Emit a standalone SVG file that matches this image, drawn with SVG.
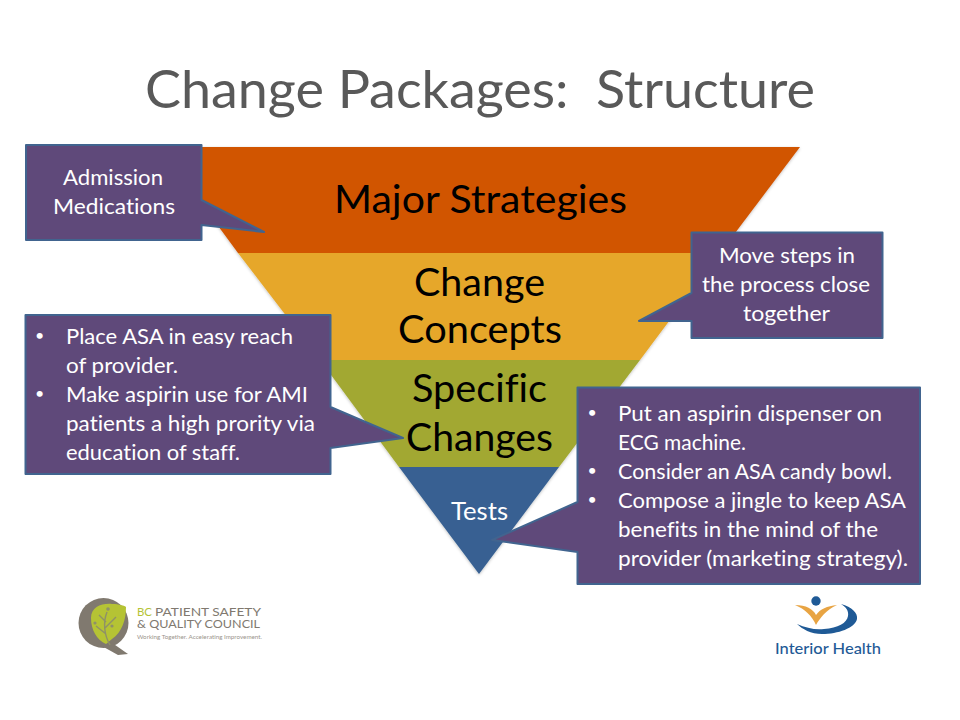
<svg xmlns="http://www.w3.org/2000/svg" width="960" height="720" viewBox="0 0 960 720">
<style>
text{font-family:Lato,"Liberation Sans",sans-serif;font-variant-ligatures:none}
.title{font-size:52px;fill:#595959;text-anchor:middle;white-space:pre}
.band{font-size:39px;fill:#000;text-anchor:middle}
.call{fill:#5f497a;stroke:#41648f;stroke-width:2;stroke-linejoin:round}
.t{font-size:20.5px;fill:#fff}
.b{font-size:16px;fill:#fff}
.c{text-anchor:middle}
.logo{fill:#80796f}
.lt{font-size:10.5px;fill:#80796f}
</style>
<defs>
<filter id="soft" x="-5%" y="-5%" width="110%" height="110%"><feDropShadow dx="0" dy="1" stdDeviation="1.5" flood-color="#000" flood-opacity=".25"/></filter>
</defs>
<rect width="960" height="720" fill="#fff"/>
<text class="title" x="480" y="108" textLength="670" lengthAdjust="spacingAndGlyphs">Change Packages:  Structure</text>

<g id="pyramid" filter="url(#soft)">
<g id="band-major"><polygon points="160,147 800,147 720,253 238,253" fill="#d15400"/></g>
<g id="band-concepts"><polygon points="238,253 720,253 640,360 320,360" fill="#e6a729"/></g>
<g id="band-specific"><polygon points="320,360 640,360 559,467 399,467" fill="#a2a832"/></g>
<g id="band-tests"><polygon points="399,467 559,467 479,574" fill="#376092"/></g>
</g>
<text class="band" x="480.5" y="213" textLength="293" lengthAdjust="spacingAndGlyphs">Major Strategies</text>
<text class="band" x="479.5" y="296" textLength="131" lengthAdjust="spacingAndGlyphs">Change</text>
<text class="band" x="480" y="343" textLength="164" lengthAdjust="spacingAndGlyphs">Concepts</text>
<text class="band" x="479.5" y="402" textLength="135" lengthAdjust="spacingAndGlyphs">Specific</text>
<text class="band" x="479.5" y="451" textLength="147" lengthAdjust="spacingAndGlyphs">Changes</text>
<text class="c" x="479.5" y="520" font-size="25" fill="#fff" textLength="57" lengthAdjust="spacingAndGlyphs">Tests</text>

<g id="connectors"></g>

<g id="callout-admission">
<path class="call" d="M26,145H201.5V200L264,232L201.5,225V240H26Z"/>
<text class="t" x="63" y="185" textLength="100" lengthAdjust="spacingAndGlyphs">Admission</text>
<text class="t" x="53" y="214" textLength="122" lengthAdjust="spacingAndGlyphs">Medications</text>
</g>
<g id="callout-move-steps">
<path class="call" d="M691.5,232.5H882.5V338H691.5V321H639L691.5,293Z"/>
<text class="t" x="719" y="263" textLength="136" lengthAdjust="spacingAndGlyphs">Move steps in</text>
<text class="t" x="702" y="292" textLength="168" lengthAdjust="spacingAndGlyphs">the process close</text>
<text class="t" x="743" y="321" textLength="87" lengthAdjust="spacingAndGlyphs">together</text>
</g>
<g id="callout-aspirin-reach">
<path class="call" d="M25.5,315H330.5V407L403,438L330.5,448V474H25.5Z"/>
<text class="b" x="35" y="341">•</text>
<text class="t" x="66" y="344" textLength="227" lengthAdjust="spacingAndGlyphs">Place ASA in easy reach</text>
<text class="t" x="66" y="373" textLength="112" lengthAdjust="spacingAndGlyphs">of provider.</text>
<text class="b" x="35" y="399">•</text>
<text class="t" x="66" y="402" textLength="242" lengthAdjust="spacingAndGlyphs">Make aspirin use for AMI</text>
<text class="t" x="66" y="431" textLength="249" lengthAdjust="spacingAndGlyphs">patients a high prority via</text>
<text class="t" x="66" y="460" textLength="174" lengthAdjust="spacingAndGlyphs">education of staff.</text>
</g>
<g id="callout-dispenser">
<path class="call" d="M577.5,387.5H920V584H577.5V552L492,540L577.5,502Z"/>
<text class="b" x="587.5" y="418">•</text>
<text class="t" x="618" y="421" textLength="264" lengthAdjust="spacingAndGlyphs">Put an aspirin dispenser on</text>
<text class="t" x="618" y="450" textLength="128" lengthAdjust="spacingAndGlyphs">ECG machine.</text>
<text class="b" x="587.5" y="476">•</text>
<text class="t" x="618" y="479" textLength="274" lengthAdjust="spacingAndGlyphs">Consider an ASA candy bowl.</text>
<text class="b" x="587.5" y="505">•</text>
<text class="t" x="618" y="508" textLength="288" lengthAdjust="spacingAndGlyphs">Compose a jingle to keep ASA</text>
<text class="t" x="618" y="537" textLength="260" lengthAdjust="spacingAndGlyphs">benefits in the mind of the</text>
<text class="t" x="618" y="566" textLength="290" lengthAdjust="spacingAndGlyphs">provider (marketing strategy).</text>
</g>

<g id="logo-bcpsqc">
<circle cx="103.5" cy="623" r="25" class="logo"/>
<path class="logo" d="M108,640L128,654L118,655L100,645Z"/>
<path d="M91,618C91,607 102,603 112,604C119,604 125,606 126,607C126,620 122,632 112,639L106,644C97,640 91,630 91,618Z" fill="#b5c334"/>
<path d="M110,645C104,635 103,622 107,612M106,622L99,615M105,628L116,617M106,634L96,626" fill="none" stroke="#8f9168" stroke-width="1.4"/>
<circle cx="108" cy="609" r="1.8" fill="#8f9168"/>
<circle cx="95" cy="623" r="1.6" fill="#8f9168"/>
<circle cx="112" cy="626" r="1.6" fill="#8f9168"/>
<text class="lt" x="137" y="616" fill="#b5c334" style="fill:#b5c334" textLength="15" lengthAdjust="spacingAndGlyphs">BC</text>
<text class="lt" x="155" y="616" textLength="106" lengthAdjust="spacingAndGlyphs">PATIENT SAFETY</text>
<text class="lt" x="137" y="628" textLength="123" lengthAdjust="spacingAndGlyphs">&amp; QUALITY COUNCIL</text>
<text x="137" y="638.5" font-size="5" textLength="125" lengthAdjust="spacingAndGlyphs" fill="#9a948b">Working Together. Accelerating Improvement.</text>
</g>
<g id="logo-interior-health">
<circle cx="816" cy="601" r="4.7" fill="#1f5a96"/>
<path d="M795,605C806,605 813,609 816,615C820,609 827,606 837,605C826,610 820,618 816,625C812,616 805,609 795,605Z" fill="#e8a443"/>
<path d="M841,604C852,607 858,613 857,619C855,628 838,634 822,634C811,634 802,629 797,624C806,628 815,630 824,629C838,628 847,623 848,616C849,611 846,607 841,604Z" fill="#1f5a96"/>
<text x="775" y="654" font-size="16" font-weight="500" textLength="106" lengthAdjust="spacingAndGlyphs" fill="#1f5a96">Interior Health</text>
</g>
</svg>
